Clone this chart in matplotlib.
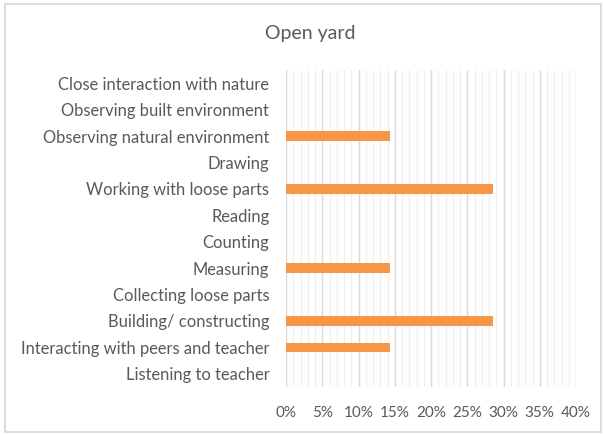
import matplotlib
matplotlib.use("Agg")
import matplotlib.pyplot as plt
from matplotlib.patches import Rectangle
from matplotlib.ticker import MultipleLocator, PercentFormatter

plt.rcParams['font.family'] = ['Lato', 'DejaVu Sans']

categories = [
    "Close interaction with nature",
    "Observing built environment",
    "Observing natural environment",
    "Drawing",
    "Working with loose parts",
    "Reading",
    "Counting",
    "Measuring",
    "Collecting loose parts",
    "Building/ constructing",
    "Interacting with peers and teacher",
    "Listening to teacher",
]
values = [0, 0, 1/7, 0, 2/7, 0, 0, 1/7, 0, 2/7, 1/7, 0]
title = "Open yard"

W, H = 603, 434
fig = plt.figure(figsize=(W / 100, H / 100), dpi=100)
fig.patch.set_facecolor("white")

# outer chart border
fig.patches.append(Rectangle((5 / W, 1 - 432 / H), 596 / W, 428 / H,
                             transform=fig.transFigure, fill=False,
                             edgecolor="#D9D9D9", linewidth=1.3))

ax = fig.add_axes([286 / W, 1 - 387 / H, 290 / W, 317 / H])
y = list(range(len(categories)))
ax.barh(y, values, height=0.36, color="#F79646", zorder=3)

ax.set_xlim(0, 0.40)
ax.set_ylim(len(categories) - 0.5, -0.5)
ax.set_yticks(y)
ax.set_yticklabels(categories)
ax.xaxis.set_major_locator(MultipleLocator(0.05))
ax.xaxis.set_minor_locator(MultipleLocator(0.01))
ax.xaxis.set_major_formatter(PercentFormatter(1.0, decimals=0))

ax.grid(which="major", axis="x", color="#D9D9D9", linewidth=1.0, zorder=1)
ax.grid(which="minor", axis="x", color="#F0F0F0", linewidth=1.0, zorder=0)
for s in ax.spines.values():
    s.set_visible(False)
ax.tick_params(axis="both", which="both", length=0, colors="#595959", labelsize=11)
ax.tick_params(axis="y", pad=12, labelsize=11.9)
ax.tick_params(axis="x", pad=14)

fig.text(310 / W, 1 - 33 / H, title, ha="center", va="center",
         fontsize=14, color="#595959")

fig.savefig("out.png", dpi=100)
